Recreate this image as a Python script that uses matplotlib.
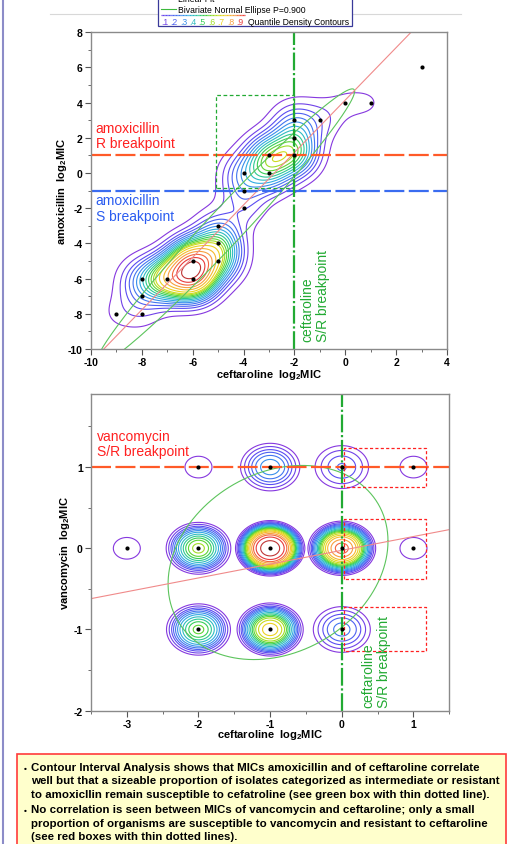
import numpy as np
import matplotlib
matplotlib.use("Agg")
import matplotlib.pyplot as plt
from matplotlib.colors import LinearSegmentedColormap
from matplotlib.lines import Line2D
from matplotlib.patches import Rectangle

plt.rcParams['font.family'] = ['Liberation Sans', 'DejaVu Sans']
plt.rcParams['mathtext.fontset'] = 'custom'
plt.rcParams['mathtext.rm'] = 'Liberation Sans'
plt.rcParams['mathtext.bf'] = 'Liberation Sans:bold'
plt.rcParams['axes.unicode_minus'] = False

# ---------------- data ----------------
# top panel: ceftaroline vs amoxicillin (log2 MIC) with estimated isolate counts
amx_cef = [-9, -8, -8, -8, -7, -6, -6, -5, -5, -5, -4, -4, -4, -3, -3, -2, -2, -2, -1, 0, 1, 3]
amx_amx = [-8, -6, -7, -8, -6, -5, -6, -3, -4, -5, 0, -1, -2, 1, 0, 3, 2, 1, 3, 4, 4, 6]
amx_n = [1, 4, 2, 1, 15, 20, 20, 2, 8, 8, 4, 2, 2, 9, 6, 3, 5, 9, 2, 1, 1, 1]
amx_fit = (1.49, 4.15)                       # slope, intercept
amx_ell = (-4.72, -3.07, 2.37, 3.66, 0.982)  # mean x, mean y, sd x, sd y, r

# bottom panel: ceftaroline vs vancomycin (log2 MIC)
van_cef = [-3, -2, -1, 0, 1, -2, -1, 0, 1, -2, -1, 0]
van_van = [0, 1, 1, 1, 1, 0, 0, 0, 0, -1, -1, -1]
van_n = [1, 1, 5, 3, 1, 10, 26, 18, 1, 9, 13, 4]
van_fit = (0.17, -0.025)
van_ell = (-0.89, -0.175, 0.715, 0.557, 0.22)

quantiles = np.round(np.arange(0.05, 0.951, 0.05), 2)
legend_q = [0.1, 0.2, 0.3, 0.4, 0.5, 0.6, 0.7, 0.8, 0.9]

notes = [
    ("\u2022 ", "Contour Interval Analysis shows that MICs amoxicillin and of ceftaroline correlate"),
    ("", "well but that a sizeable proportion of isolates categorized as intermediate or resistant"),
    ("", "to amoxicllin remain susceptible to cefatroline (see green box with thin dotted line)."),
    ("\u2022 ", "No correlation is seen between MICs of vancomycin and ceftaroline; only a small"),
    ("", "proportion of organisms are susceptible to vancomycin and resistant to ceftaroline"),
    ("", "(see red boxes with thin dotted lines)."),
]

# ---------------- helpers ----------------
cmap = LinearSegmentedColormap.from_list("q", [
    (0.0, '#9A2FD6'), (0.15, '#5A4CF2'), (0.27, '#3E7EF0'), (0.36, '#2FB0E0'),
    (0.44, '#2CC8A0'), (0.52, '#3CD040'), (0.62, '#B8E020'), (0.71, '#F2D020'),
    (0.80, '#F8A040'), (0.89, '#F03C3C'), (1.0, '#9A3030')])

W, H = 529, 845
fig = plt.figure(figsize=(W / 100, H / 100), dpi=100)


def fx(px):
    return px / W


def fy(py):
    return 1 - py / H


def density(xs, ys, ws, gx, gy, hx, hy, kernel='gauss'):
    X, Y = np.meshgrid(gx, gy)
    Z = np.zeros_like(X)
    for x, y, w in zip(xs, ys, ws):
        u2 = ((X - x) / hx) ** 2 + ((Y - y) / hy) ** 2
        if kernel == 'gauss':
            Z += w * np.exp(-0.5 * u2)
        else:
            Z += w * np.clip(1 - u2, 0, None) ** 2
    return X, Y, Z


def qlevels(Z, qs):
    z = np.sort(Z.ravel())[::-1]
    c = np.cumsum(z)
    c /= c[-1]
    return [z[min(np.searchsorted(c, 1 - q), len(z) - 1)] for q in qs]


def ellipse(mx, my, sx, sy, r, p=0.9):
    c = np.sqrt(-2 * np.log(1 - p))
    t = np.linspace(0, 2 * np.pi, 400)
    L = np.linalg.cholesky(np.array([[sx * sx, r * sx * sy], [r * sx * sy, sy * sy]]))
    pts = c * L @ np.vstack([np.cos(t), np.sin(t)])
    return mx + pts[0], my + pts[1]


def style_axes(ax):
    for s in ax.spines.values():
        s.set_color('#8a8a8a')
        s.set_linewidth(1.0)
    ax.tick_params(which='major', direction='out', length=4, width=0.8,
                   labelsize=7.5, color='#555555', pad=2)
    ax.tick_params(which='minor', direction='out', length=2, width=0.6, color='#555555')
    for t in ax.get_xticklabels() + ax.get_yticklabels():
        t.set_fontweight('bold')


# ---------------- top panel ----------------
ax1 = fig.add_axes([fx(91), fy(350), fx(447) - fx(91), fy(33.3) - fy(350)])
gx = np.linspace(-13, 7, 500)
gy = np.linspace(-13, 11, 560)
X, Y, Z = density(amx_cef, amx_amx, amx_n, gx, gy, 0.62, 0.84)
lv = qlevels(Z, quantiles)
ax1.contour(X, Y, Z, levels=lv, colors=[cmap(q) for q in quantiles], linewidths=0.8)

ex, ey = ellipse(*amx_ell)
ax1.plot(ex, ey, color='#5cc45c', lw=0.8)
xl = np.array([-10, 4])
ax1.plot(xl, amx_fit[0] * xl + amx_fit[1], color='#f08a8a', lw=0.8)

ax1.axhline(1, color='#ff5a28', lw=1.6, dashes=(9, 2))
ax1.axhline(-1, color='#3a6cf0', lw=1.6, dashes=(9, 2))
ax1.axvline(-2, color='#22aa33', lw=1.6, dashes=(8, 1.2, 1, 1.2))
ax1.plot([-5.1, -5.1, -2.03, -2.03, -5.1], [-0.87, 4.45, 4.45, -0.87, -0.87],
         color='#22aa33', lw=0.9, dashes=(3, 2))
ax1.scatter(amx_cef, amx_amx, s=9, color='black', zorder=5, linewidths=0)

ax1.text(-9.82, 1.3, "amoxicillin\nR breakpoint", color='#ff2020', fontsize=10,
         ha='left', va='bottom', linespacing=1.15)
ax1.text(-9.82, -2.82, "amoxicillin\nS breakpoint", color='#2a5cf0', fontsize=10,
         ha='left', va='bottom', linespacing=1.15)
ax1.text(-1.78, -9.55, "ceftaroline\nS/R breakpoint", color='#22aa33', fontsize=10,
         ha='left', va='bottom', rotation=90, linespacing=1.15)

ax1.set_xlim(-10, 4)
ax1.set_ylim(-10, 8)
ax1.set_xticks(np.arange(-10, 5, 2))
ax1.set_xticks(np.arange(-9, 4, 2), minor=True)
ax1.set_yticks(np.arange(-10, 9, 2))
ax1.set_yticks(np.arange(-9, 8, 2), minor=True)
style_axes(ax1)
ax1.set_xlabel(r"ceftaroline  log$_\mathbf{2}$MIC", fontsize=8, fontweight='bold')
ax1.set_ylabel(r"amoxicillin  log$_\mathbf{2}$MIC", fontsize=8, fontweight='bold')
ax1.xaxis.set_label_coords(0.5, -0.08)
ax1.yaxis.set_label_coords(-0.082, 0.5)
ax1.xaxis.label.set_va('center')
ax1.yaxis.label.set_va('center')

# ---------------- bottom panel ----------------
ax2 = fig.add_axes([fx(91), fy(711.7), fx(449.3) - fx(91), fy(395) - fy(711.7)])
gx2 = np.linspace(-4.5, 2.5, 700)
gy2 = np.linspace(-2.8, 2.6, 540)
X2, Y2, Z2 = density(van_cef, van_van, van_n, gx2, gy2, 0.53, 0.375, kernel='biweight')
lv2 = qlevels(Z2, quantiles)
ax2.contour(X2, Y2, Z2, levels=lv2, colors=[cmap(q) for q in quantiles], linewidths=0.8)

ex, ey = ellipse(*van_ell)
ax2.plot(ex, ey, color='#5cc45c', lw=0.8)
xl = np.array([-3.5, 1.5])
ax2.plot(xl, van_fit[0] * xl + van_fit[1], color='#f08a8a', lw=0.8)

ax2.axhline(1, color='#ff5a28', lw=1.6, dashes=(9, 2))
ax2.axvline(0, color='#22aa33', lw=1.6, dashes=(8, 1.2, 1, 1.2))
for y0, y1 in [(0.76, 1.24), (-0.38, 0.357), (-1.26, -0.72)]:
    ax2.plot([0.03, 0.03, 1.17, 1.17, 0.03], [y0, y1, y1, y0, y0],
             color='#ff2020', lw=0.9, dashes=(2.5, 1.8))
ax2.scatter(van_cef, van_van, s=9, color='black', zorder=5, linewidths=0)

ax2.text(-3.42, 1.11, "vancomycin\nS/R breakpoint", color='#ff2020', fontsize=10,
         ha='left', va='bottom', linespacing=1.15)
ax2.text(0.27, -1.96, "ceftaroline\nS/R breakpoint", color='#22aa33', fontsize=10,
         ha='left', va='bottom', rotation=90, linespacing=1.15)

ax2.set_xlim(-3.5, 1.5)
ax2.set_ylim(-2, 1.9)
ax2.set_xticks(np.arange(-3, 2, 1))
ax2.set_xticks(np.arange(-3.5, 1.6, 0.5), minor=True)
ax2.set_yticks(np.arange(-2, 2, 1))
ax2.set_yticks(np.arange(-2, 1.95, 0.5), minor=True)
style_axes(ax2)
ax2.set_xlabel(r"ceftaroline  log$_\mathbf{2}$MIC", fontsize=8, fontweight='bold')
ax2.set_ylabel(r"vancomycin  log$_\mathbf{2}$MIC", fontsize=8, fontweight='bold')
ax2.xaxis.set_label_coords(0.5, -0.075)
ax2.yaxis.set_label_coords(-0.073, 0.5)
ax2.xaxis.label.set_va('center')
ax2.yaxis.label.set_va('center')

# ---------------- decorations ----------------
fig.add_artist(Line2D([fx(2.5), fx(2.5)], [0, 1], color='#8c8cc8', lw=1.5))
fig.add_artist(Line2D([fx(50), fx(461)], [fy(15), fy(15)], color='#d8d8d8', lw=0.8))

# legend box
fig.add_artist(Rectangle((fx(158), fy(26.5)), fx(352) - fx(158), 0.05,
                         facecolor='white', edgecolor='#3a3a9a', lw=0.9, zorder=3))
fig.add_artist(Line2D([fx(161), fx(176)], [fy(-1), fy(-1)], color='#f0a0a0', lw=0.8, zorder=4))
fig.text(fx(178), fy(2.5), "Linear Fit", fontsize=6.2, va='baseline', zorder=4)
fig.add_artist(Line2D([fx(161), fx(176)], [fy(10), fy(10)], color='#3cb83c', lw=0.8, zorder=4))
fig.text(fx(178), fy(13), "Bivariate Normal Ellipse P=0.900", fontsize=6.2,
         va='baseline', zorder=4)
segs = np.linspace(161, 245, 60)
for a, b, q in zip(segs[:-1], segs[1:], np.linspace(0.1, 0.9, 59)):
    fig.add_artist(Line2D([fx(a), fx(b)], [fy(15.8), fy(15.8)], color=cmap(q),
                          lw=0.9, zorder=4, solid_capstyle='butt'))
xq = 161
for q in legend_q:
    fig.text(fx(xq), fy(25), f".{int(round(q * 10))}", fontsize=6.2,
             color=cmap(q), va='baseline', zorder=4)
    xq += 9.4
fig.text(fx(248), fy(25), "Quantile Density Contours", fontsize=6.2,
         va='baseline', zorder=4)

# notes box
fig.add_artist(Rectangle((fx(17), -0.02), fx(506) - fx(17), fy(755) + 0.02,
                         facecolor='#ffffcc', edgecolor='#ff3b3b', lw=1.2))
baselines = [770.8, 784.2, 797.7, 813.3, 826.7, 840.2]
for (bullet, line), by in zip(notes, baselines):
    if bullet:
        fig.text(fx(24), fy(by), "\u2022", fontsize=6, fontweight='bold', va='baseline')
    fig.text(fx(31), fy(by), line, fontsize=8.25, fontweight='bold', va='baseline')

fig.savefig("out.png", dpi=100)
